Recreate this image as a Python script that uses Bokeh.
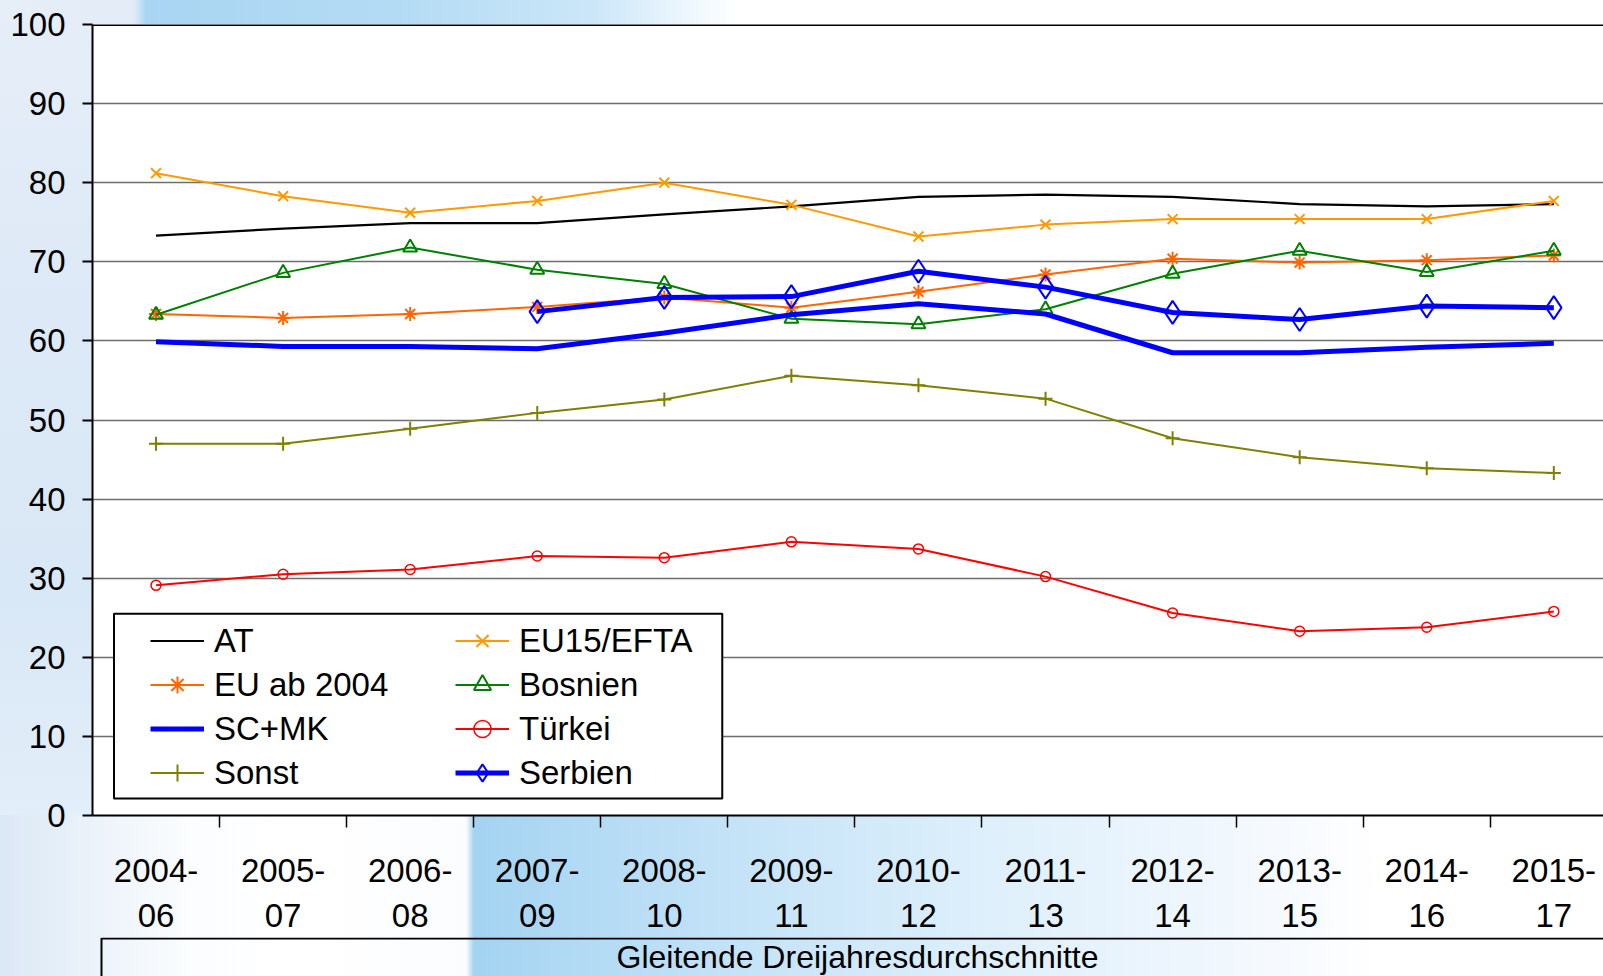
from bokeh.plotting import figure
from bokeh.models import (FixedTicker, Range1d, Legend, LegendItem, Span, Label,
                          BoxAnnotation)
from bokeh.layouts import column
from bokeh.embed import file_html
from bokeh.resources import INLINE

# ---------------- data ----------------
period_start = ["2004-", "2005-", "2006-", "2007-", "2008-", "2009-",
                "2010-", "2011-", "2012-", "2013-", "2014-", "2015-"]
period_end = ["06", "07", "08", "09", "10", "11", "12", "13", "14", "15", "16", "17"]

at = [73.3, 74.2, 74.9, 74.9, 76.0, 77.0, 78.2, 78.5, 78.2, 77.3, 77.0, 77.3]
eu15_efta = [81.2, 78.3, 76.2, 77.7, 80.0, 77.2, 73.2, 74.7, 75.4, 75.4, 75.4, 77.7]
eu_ab_2004 = [63.4, 62.9, 63.4, 64.3, 65.5, 64.2, 66.2, 68.4, 70.4, 69.9, 70.2, 70.8]
bosnien = [63.3, 68.6, 71.8, 69.0, 67.2, 62.8, 62.1, 64.0, 68.5, 71.4, 68.7, 71.4]
sc_mk = [59.9, 59.3, 59.3, 59.0, 61.0, 63.3, 64.7, 63.4, 58.5, 58.5, 59.2, 59.7]
tuerkei = [29.1, 30.5, 31.1, 32.8, 32.6, 34.6, 33.7, 30.2, 25.6, 23.3, 23.8, 25.8]
sonst = [47.0, 47.0, 48.9, 50.9, 52.6, 55.6, 54.4, 52.7, 47.7, 45.3, 43.9, 43.3]
serbien_start = 3
serbien = [63.7, 65.5, 65.6, 68.8, 66.8, 63.6, 62.7, 64.4, 64.2]

y_ticks = [0, 10, 20, 30, 40, 50, 60, 70, 80, 90, 100]
x_label = "Gleitende Dreijahresdurchschnitte"

# ---------------- styling ----------------
FONT = "'Liberation Sans', Arial, sans-serif"
TICK_SIZE = "33px"

xs = list(range(len(period_start)))
xs_serbien = xs[serbien_start:]

p = figure(width=1603, height=937,
           x_range=Range1d(-0.5, 11.391), y_range=Range1d(0, 100),
           output_backend="svg", toolbar_location=None,
           min_border_left=92, min_border_right=0, min_border_top=24,
           min_border_bottom=122)
p.border_fill_alpha = 0
p.background_fill_color = "white"
p.outline_line_color = None

# axes
p.yaxis.ticker = FixedTicker(ticks=y_ticks)
p.yaxis.axis_line_width = 2
p.yaxis.axis_line_color = "black"
p.yaxis.major_tick_out = 10
p.yaxis.major_tick_in = 0
p.yaxis.major_tick_line_width = 2
p.yaxis.minor_tick_line_color = None
p.yaxis.major_label_standoff = 17
p.yaxis.major_label_text_font = FONT
p.yaxis.major_label_text_font_size = TICK_SIZE
p.yaxis.major_label_text_color = "black"

p.xaxis.ticker = FixedTicker(ticks=xs, minor_ticks=[i + 0.5 for i in xs[:-1]])
p.xaxis.axis_line_width = 2
p.xaxis.axis_line_color = "black"
p.xaxis.major_tick_line_color = None
p.xaxis.major_tick_out = 0
p.xaxis.major_tick_in = 0
p.xaxis.minor_tick_out = 12
p.xaxis.minor_tick_in = 0
p.xaxis.minor_tick_line_width = 1.5
p.xaxis.minor_tick_line_color = "black"
p.xaxis.major_label_standoff = 24
p.xaxis.major_label_text_font = FONT
p.xaxis.major_label_text_font_size = TICK_SIZE
p.xaxis.major_label_text_color = "black"
p.xaxis.major_label_text_line_height = 1.22
p.xaxis.major_label_overrides = {i: f"{a}\n{b}" for i, a, b in zip(xs, period_start, period_end)}

p.xgrid.grid_line_color = None
p.ygrid.ticker = FixedTicker(ticks=y_ticks[1:-1])
p.ygrid.grid_line_color = "#6e6e6e"
p.ygrid.grid_line_width = 1.5

p.add_layout(Span(location=100, dimension="width", line_color="black", line_width=3))

# series
r_at = p.line(xs, at, line_color="black", line_width=2.2)
r_eu15 = p.line(xs, eu15_efta, line_color="#FF9900", line_width=2)
m_eu15 = p.scatter(xs, eu15_efta, marker="x", size=14, line_color="#FF9900", line_width=2)
r_eu04 = p.line(xs, eu_ab_2004, line_color="#FF6600", line_width=2)
m_eu04 = p.scatter(xs, eu_ab_2004, marker="asterisk", size=14, line_color="#FF6600", line_width=2)
r_bos = p.line(xs, bosnien, line_color="#008000", line_width=2)
m_bos = p.scatter(xs, bosnien, marker="triangle", size=14, line_color="#008000",
                  fill_color=None, line_width=2)
r_scmk = p.line(xs, sc_mk, line_color="#0000FF", line_width=5)
r_tr = p.line(xs, tuerkei, line_color="#FF0000", line_width=2)
m_tr = p.scatter(xs, tuerkei, marker="circle", size=10, line_color="#FF0000",
                 fill_color=None, line_width=1.5)
r_so = p.line(xs, sonst, line_color="#808000", line_width=2)
m_so = p.scatter(xs, sonst, marker="cross", size=14, line_color="#808000", line_width=2)
r_se = p.line(xs_serbien, serbien, line_color="#0000FF", line_width=5)
m_se = p.scatter(xs_serbien, serbien, marker="diamond", size=23, line_color="#0000FF",
                 fill_color=None, line_width=2)

# legend frame
p.add_layout(BoxAnnotation(left=-0.331, right=4.456, bottom=2.15, top=25.5,
                           fill_color="white", fill_alpha=1,
                           line_color="black", line_alpha=1, line_width=2,
                           level="annotation"))

items = [
    LegendItem(label="AT", renderers=[r_at]),
    LegendItem(label="EU ab 2004", renderers=[r_eu04, m_eu04]),
    LegendItem(label="SC+MK", renderers=[r_scmk]),
    LegendItem(label="Sonst", renderers=[r_so, m_so]),
    LegendItem(label="EU15/EFTA", renderers=[r_eu15, m_eu15]),
    LegendItem(label="Bosnien", renderers=[r_bos, m_bos]),
    LegendItem(label="Türkei", renderers=[r_tr, m_tr]),
    LegendItem(label="Serbien", renderers=[r_se, m_se]),
]
legend = Legend(items=items, ncols=2, location=(58, 21), padding=0, margin=0,
                spacing=1, glyph_width=54, glyph_height=43, label_height=43,
                label_width=240, label_standoff=10,
                label_text_font=FONT, label_text_font_size=TICK_SIZE,
                label_text_color="black",
                background_fill_alpha=0, border_line_alpha=0)
p.add_layout(legend, "center")

# category group box below the axis (frame aligned with the chart frame)
p2 = figure(width=1603, height=39, x_range=Range1d(0, 1), y_range=Range1d(0, 1),
            output_backend="svg", toolbar_location=None,
            x_axis_type=None, y_axis_type=None,
            min_border_left=92, min_border_right=0, min_border_top=0, min_border_bottom=0)
p2.border_fill_alpha = 0
p2.background_fill_alpha = 0
p2.outline_line_color = None
p2.xgrid.grid_line_color = None
p2.ygrid.grid_line_color = None
box_left = 9 / 1511
p2.add_layout(BoxAnnotation(left=box_left, right=1.2, bottom=-1.0, top=0.975,
                            fill_alpha=0, line_color="black", line_alpha=1,
                            line_width=2))
p2.add_layout(Label(x=(857 - 92) / 1511, y=0.49, text=x_label, text_align="center",
                    text_baseline="middle", text_font=FONT,
                    text_font_size="32px", text_color="black"))

bg = ", ".join([
    # top strip
    "linear-gradient(to right, #e6eef7 0px, #e3ecf7 134px, #a8d5f2 146px, #b4dbf4 400px, #cbe6f8 590px, #eef7fd 690px, #ffffff 740px) 0 0 / 100% 24px no-repeat",
    # bottom band
    "linear-gradient(to right, #dbe8f5 0px, #e9f1f9 80px, #fbfdfe 190px, #ffffff 300px, #fafcfe 466px, #a3d3f1 474px, #b2daf4 580px, #c9e5f8 780px, #ddeffb 980px, #f0f7fd 1220px, #ffffff 1380px) 0 815px / 100% 200px no-repeat",
    # left strip
    "linear-gradient(to bottom, #e6eef8 0px, #dde9f6 300px, #d9e8f6 600px, #e2eef9 815px) 0 0 / 92px 100% no-repeat",
    "#ffffff",
])
layout = column(p, p2, spacing=0, styles={"background": bg})

open("out.html", "w").write(file_html(layout, INLINE))
